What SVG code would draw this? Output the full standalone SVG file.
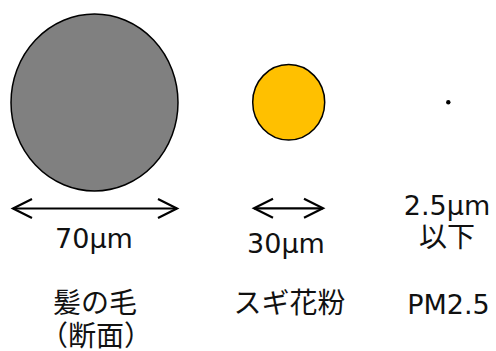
<svg xmlns="http://www.w3.org/2000/svg" width="496" height="351" viewBox="0 0 496 351">
  <style>
    .t { font-family: "DejaVu Sans", "Noto Sans CJK JP", sans-serif; font-size: 27px; fill: #111; text-anchor: middle; }
    .j { font-family: "Noto Sans CJK JP", sans-serif; font-size: 28px; fill: #111; text-anchor: middle; }
    .arr { stroke: #000; stroke-width: 2.2; fill: none; marker-start: url(#head); marker-end: url(#head); }
  </style>
  <defs>
    <marker id="head" markerUnits="userSpaceOnUse" markerWidth="24" markerHeight="24" refX="19" refY="9.5" orient="auto-start-reverse" overflow="visible">
      <path d="M0,0 L19,9.5 L0,19" fill="none" stroke="#000" stroke-width="2.2"/>
    </marker>
  </defs>
  <rect width="496" height="351" fill="#fff"/>
  <g id="hair">
    <ellipse cx="94.5" cy="102.5" rx="83.5" ry="88.5" fill="#808080" stroke="#000" stroke-width="1.5"/>
    <text class="t" x="94" y="248">70μm</text>
    <text class="j" x="95" y="313">髪の毛</text>
    <text class="j" x="96" y="346">（断面）</text>
  </g>
  <g id="pollen">
    <ellipse cx="288.7" cy="102.3" rx="36" ry="37.7" fill="#FFC000" stroke="#000" stroke-width="1.5"/>
    <text class="t" x="286" y="253">30μm</text>
    <text class="j" x="289.5" y="313">スギ花粉</text>
  </g>
  <g id="pm25">
    <circle cx="448.3" cy="102.3" r="2.2" fill="#000"/>
    <text class="t" x="447" y="215">2.5μm</text>
    <text class="j" x="447" y="247">以下</text>
    <text class="t" x="448.5" y="314">PM2.5</text>
  </g>
  <g id="connectors">
    <line class="arr" x1="13" y1="208.5" x2="177" y2="208.5"/>
    <line class="arr" x1="254" y1="208.3" x2="323" y2="208.3"/>
  </g>
</svg>
